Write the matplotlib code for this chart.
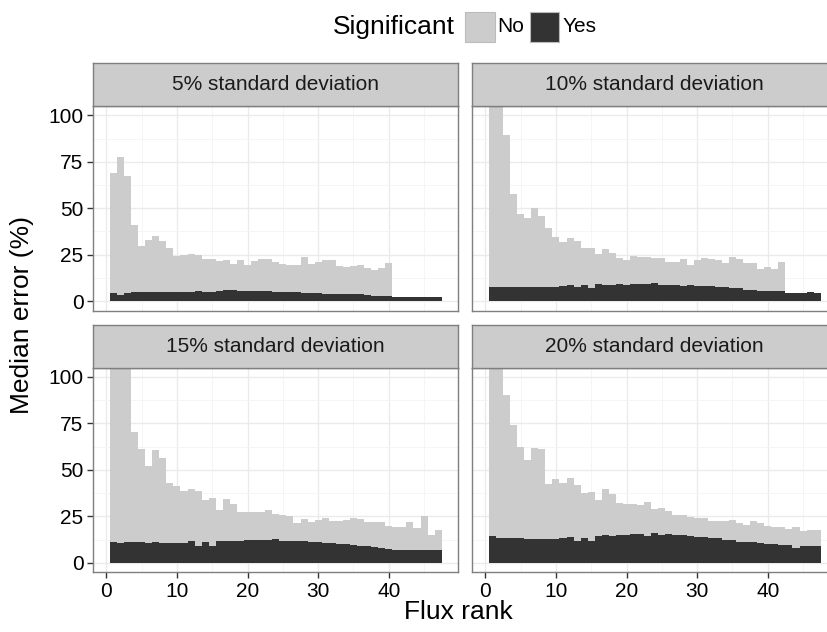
import numpy as np
import matplotlib
matplotlib.use("Agg")
import matplotlib.pyplot as plt
from matplotlib.patches import Rectangle

plt.rcParams['font.family'] = ['Liberation Sans', 'DejaVu Sans']

nan = np.nan
ranks = np.arange(1, 48)
panel_titles = ["5% standard deviation", "10% standard deviation",
                "15% standard deviation", "20% standard deviation"]

# median error (%) of non-significant fluxes, per rank
no_5 = [69.1, 77.5, 67.3, 41.1, 29.8, 32.7, 35.2, 32.5, 28.75, 24.1,
        25, 25.5, 25, 22.9, 22.9, 21.4, 22.3, 20.2, 22.3, 19.6,
        21.8, 22.9, 22.9, 20.9, 20.2, 19.3, 19.6, 23.9, 20.2, 20.9,
        22.0, 22.3, 19.1, 18.2, 18.75, 19.6, 17.7, 16.6, 17.7, 20.7,
        nan, nan, nan, nan, nan, nan, nan]
no_10 = [140, 118, 89.3, 57.7, 47, 44.8, 50, 45.9, 39.5, 34.6,
         32, 34.1, 32.5, 28.75, 28.75, 25.5, 28.2, 26.1, 23.4, 22.3,
         24.5, 23.9, 23.9, 23, 23.4, 21.25, 20.9, 22.9, 19.6, 22,
         23.4, 22.9, 22.3, 20.7, 23.9, 22.9, 20.7, 20.7, 17.5, 18.6,
         17.5, 21.25, nan, nan, nan, nan, nan]
no_15 = [150, 130, 112, 70.5, 61.4, 52.1, 60.7, 56.4, 43, 41.1,
         38.9, 39.8, 38.9, 33.9, 35, 28.6, 34.5, 31.8, 27.5, 27.5,
         27.5, 27.5, 28.6, 26.1, 25.7, 25.4, 21.6, 23.75, 22.1, 23.2,
         24.3, 22.5, 22.5, 22.9, 24.3, 23.75, 22.1, 22.1, 22.1, 20,
         19.1, 19.5, 22.1, 18.9, 25, 15.2, 17.9]
no_20 = [145, 120, 90.5, 74.1, 62.3, 55.5, 61.6, 61.25, 42.5, 45.2,
         43, 45.7, 42, 37.7, 38.2, 33.9, 39.8, 37.1, 32.3, 31.8,
         31.8, 31.25, 32.9, 29.1, 29.6, 28, 25.5, 25.9, 24.8, 23.9,
         24.3, 22.7, 22.7, 22.3, 23.2, 21.6, 20.5, 22.7, 21.6, 20,
         19.1, 19.5, 18.4, 19.3, 17.3, 17.9, 17.9]

# median error (%) of significant fluxes, per rank
yes_5 = [4.3, 3.6, 4.3, 4.8, 4.8, 4.8, 4.8, 5.2, 4.8, 4.8,
         4.8, 4.8, 5.7, 5.2, 4.8, 5.7, 6.25, 5.9, 5.7, 5.5,
         5.7, 5.7, 5.7, 5.2, 5.2, 5.2, 4.8, 4.6, 4.6, 4.6,
         4.1, 4.1, 4.1, 3.75, 4.1, 3.75, 3.2, 3.0, 3.0, 3.0,
         2.5, 2.5, 2.5, 2.5, 2.5, 2.5, 2.5]
yes_10 = [7.9, 7.5, 7.9, 7.9, 7.9, 7.9, 7.9, 7.9, 7.9, 7.9,
          8.4, 8.9, 7.5, 8.9, 7.3, 9.5, 8.9, 8.9, 9.5, 8.9,
          9.5, 9.5, 9.5, 10, 8.6, 8.9, 8.9, 8.4, 8.9, 8.4,
          8.4, 8.4, 7.9, 7.9, 7.3, 7.0, 5.9, 6.25, 5.7, 5.7,
          5.4, 5.4, 4.3, 4.3, 4.6, 5.2, 4.5]
yes_15 = [11.1, 10.7, 11.1, 11.1, 11.1, 10.7, 11.1, 10.5, 10.5, 10.5,
          10.5, 12, 9.3, 11.4, 9.3, 12, 11.6, 12, 12, 12.1,
          12.5, 12.5, 12.1, 13, 12, 12, 11.6, 12, 11.4, 11.1,
          10.5, 10.5, 10.3, 10.3, 9.8, 9.3, 8.9, 8.6, 8.2, 7.5,
          7.1, 7.1, 6.8, 7.1, 6.8, 7.1, 7.1]
yes_20 = [14.6, 13.6, 13.6, 13.2, 13.6, 13, 13, 13, 13, 12.9,
          13.2, 13.9, 12, 13.6, 12, 14.6, 15.2, 14.3, 15.2, 14.8,
          15.7, 15.4, 14.6, 16.25, 15.2, 15.7, 15, 15.2, 14.5, 14.1,
          14.1, 13.4, 13.2, 12.5, 12.5, 11.4, 11.1, 11.1, 10.7, 10.4,
          10.4, 9.8, 9.8, 8.2, 9.3, 8.9, 9.3]

no_all = [no_5, no_10, no_15, no_20]
yes_all = [yes_5, yes_10, yes_15, yes_20]

COL_NO = "#CCCCCC"
COL_YES = "#333333"
BORDER = "#7F7F7F"

W, H = 828, 632
fig = plt.figure(figsize=(W / 100, H / 100), dpi=100)


def px_rect(x0, top, w, h):
    """pixel box -> figure fraction [l, b, w, h]"""
    return [x0 / W, 1 - (top + h) / H, w / W, h / H]


# panel boxes in pixels: left, top
lefts = [93.3, 472.3, 93.3, 472.3]
tops = [106, 106, 367.7, 367.7]
pw, ph = 365, 204.5
strip_h = 43

for i in range(4):
    ax = fig.add_axes(px_rect(lefts[i], tops[i], pw, ph))
    ax.set_facecolor("white")
    ax.set_xlim(-1.85, 49.85)
    ax.set_ylim(-5, 105)
    ax.set_xticks([0, 10, 20, 30, 40])
    ax.set_xticks([5, 15, 25, 35, 45], minor=True)
    ax.set_yticks([0, 25, 50, 75, 100])
    ax.set_yticks([12.5, 37.5, 62.5, 87.5], minor=True)
    ax.grid(True, which="major", color="#EBEBEB", linewidth=1.0)
    ax.grid(True, which="minor", color="#F4F4F4", linewidth=0.6)
    ax.set_axisbelow(True)

    ax.bar(ranks, no_all[i], width=1.0, color=COL_NO, linewidth=0)
    ax.bar(ranks, yes_all[i], width=1.0, color=COL_YES, linewidth=0)

    for s in ax.spines.values():
        s.set_color(BORDER)
        s.set_linewidth(1.0)

    ax.tick_params(which="minor", length=0)
    ax.tick_params(which="major", length=4, width=1.0, color="#333333",
                   labelsize=15, pad=3)
    if i in (0, 1):
        ax.tick_params(axis="x", which="major", length=0, labelbottom=False)
    if i in (1, 3):
        ax.tick_params(axis="y", which="major", length=0, labelleft=False)

    # facet strip
    st = fig.add_axes(px_rect(lefts[i], tops[i] - strip_h, pw, strip_h))
    st.set_facecolor(COL_NO)
    st.set_xticks([])
    st.set_yticks([])
    for s in st.spines.values():
        s.set_color(BORDER)
        s.set_linewidth(1.0)
    st.text(0.5, 0.5, panel_titles[i], transform=st.transAxes,
            ha="center", va="center", fontsize=15, color="#1A1A1A")

fig.text(22 / W, 1 - 315 / H, "Median error (%)", rotation=90,
         ha="center", va="center", fontsize=19)
fig.text(458 / W, 1 - 612 / H, "Flux rank", ha="center", va="center",
         fontsize=19)

# legend on top
ly = 27
fig.text(455 / W, 1 - ly / H, "Significant", ha="right", va="center",
         fontsize=19)
fig.patches.append(Rectangle((465 / W, 1 - 42 / H), 30 / W, 30 / H,
                             transform=fig.transFigure, facecolor=COL_NO,
                             edgecolor="#BBBBBB", linewidth=0.8))
fig.text(497 / W, 1 - ly / H, "No", ha="left", va="center", fontsize=15)
fig.patches.append(Rectangle((530 / W, 1 - 42 / H), 29 / W, 30 / H,
                             transform=fig.transFigure, facecolor=COL_YES,
                             edgecolor="#BBBBBB", linewidth=0.8))
fig.text(563 / W, 1 - ly / H, "Yes", ha="left", va="center", fontsize=15)

fig.savefig("out.png", dpi=100)
